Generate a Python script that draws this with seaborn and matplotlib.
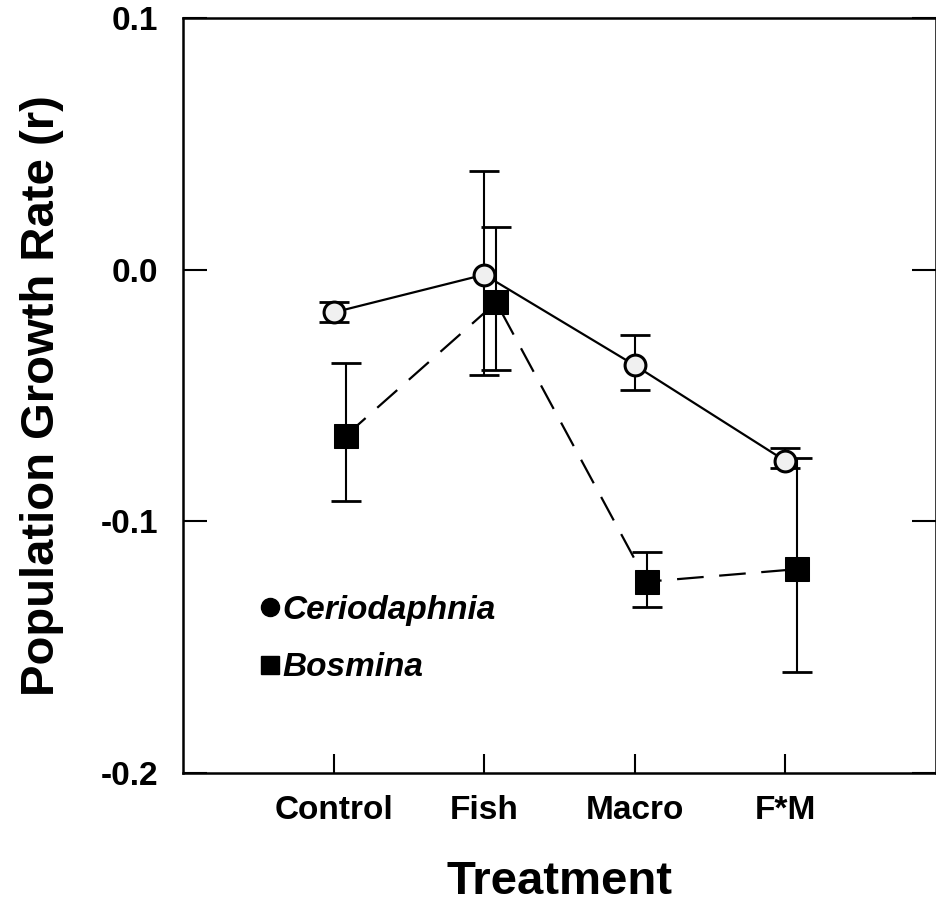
import matplotlib
matplotlib.use("Agg")
import matplotlib.pyplot as plt
from matplotlib.lines import Line2D
import numpy as np
import pandas as pd
import seaborn as sns

# Treatments and population growth rates (mean with error)
treatments = ["Control", "Fish", "Macro", "F*M"]
cerio_mean = [-0.017, -0.002, -0.038, -0.076]
cerio_err_up = [0.004, 0.041, 0.012, 0.005]
cerio_err_dn = [0.004, 0.040, 0.010, 0.003]
bosm_mean = [-0.066, -0.013, -0.124, -0.119]
bosm_err_up = [0.029, 0.030, 0.012, 0.044]
bosm_err_dn = [0.026, 0.027, 0.010, 0.041]

pos = np.arange(1, len(treatments) + 1)
shift = 0.08  # small horizontal offset so the two species do not overlap

df = pd.DataFrame({
    "pos": np.concatenate([pos, pos + shift]),
    "r": cerio_mean + bosm_mean,
    "species": ["Ceriodaphnia"] * 4 + ["Bosmina"] * 4,
})

sns.set_style("ticks")
plt.rcParams["font.family"] = ["Liberation Sans", "DejaVu Sans"]
plt.rcParams["font.weight"] = "bold"
for key in ["text.color", "axes.labelcolor", "xtick.color", "ytick.color",
            "axes.edgecolor"]:
    plt.rcParams[key] = "black"

fig = plt.figure(figsize=(9.37, 9.08), dpi=100)
ax = fig.add_axes([0.1953, 0.1487, 0.8036, 0.8315])

cer = df[df.species == "Ceriodaphnia"]
bos = df[df.species == "Bosmina"]

# Error bars
ax.errorbar(cer.pos, cer.r, yerr=[cerio_err_dn, cerio_err_up], fmt="none",
            ecolor="black", elinewidth=1.5, capsize=11, capthick=2, zorder=2)
ax.errorbar(bos.pos, bos.r, yerr=[bosm_err_dn, bosm_err_up], fmt="none",
            ecolor="black", elinewidth=1.5, capsize=11, capthick=2, zorder=2)

# Species lines
sns.lineplot(data=cer, x="pos", y="r", ax=ax, color="black", linewidth=1.6,
             marker="o", markersize=15, markerfacecolor="#f0f0f0",
             markeredgecolor="black", markeredgewidth=2.2, zorder=3,
             legend=False)
sns.lineplot(data=bos, x="pos", y="r", ax=ax, color="black", linewidth=1.6,
             marker="s", markersize=17, markerfacecolor="black",
             markeredgecolor="black", zorder=3, legend=False)
ax.lines[-1].set_dashes([12, 7])

ax.set_xlim(0, 5)
ax.set_ylim(-0.2, 0.1)
ax.set_xticks(pos)
ax.set_xticklabels(treatments)
ax.set_yticks([-0.2, -0.1, 0.0, 0.1])
ax.set_yticklabels(["-0.2", "-0.1", "0.0", "0.1"])

ax.tick_params(axis="x", direction="in", length=14, width=1.5, pad=16,
               labelsize=24, top=False)
ax.tick_params(axis="y", direction="in", length=17, width=1.5, pad=18,
               labelsize=24, right=True)
for lab in ax.get_xticklabels() + ax.get_yticklabels():
    lab.set_fontweight("bold")

for s in ax.spines.values():
    s.set_linewidth(1.8)
    s.set_visible(True)

ax.set_xlabel("Treatment", fontsize=34, fontweight="bold", labelpad=24)
ax.set_ylabel("Population Growth Rate (r)", fontsize=34, fontweight="bold",
              labelpad=26)

handles = [
    Line2D([], [], linestyle="none", marker="o", markersize=13,
           color="black"),
    Line2D([], [], linestyle="none", marker="s", markersize=13,
           color="black"),
]
leg = ax.legend(handles, ["Ceriodaphnia", "Bosmina"], loc="lower left",
                bbox_to_anchor=(0.065, 0.079), frameon=False,
                handlelength=0.5, handletextpad=0.1, labelspacing=0.8,
                prop={"size": 24, "weight": "bold", "style": "italic"})

fig.savefig("out.png", dpi=100)
